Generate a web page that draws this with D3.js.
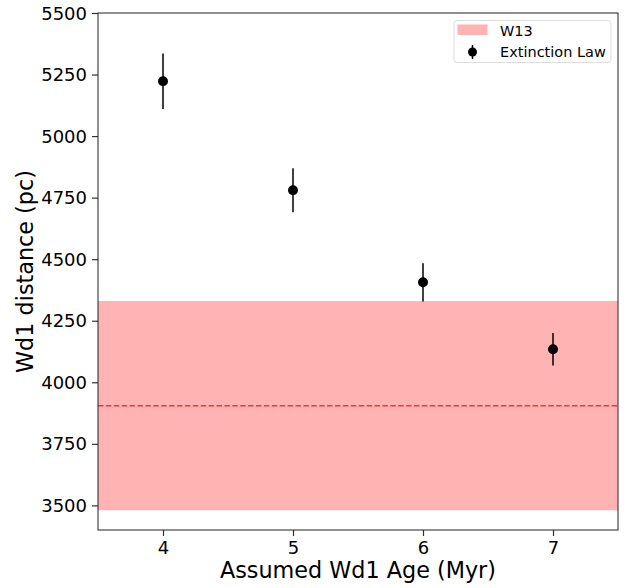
<!DOCTYPE html>
<html><head><meta charset="utf-8">
<script src="https://cdn.jsdelivr.net/npm/d3@7"></script>
<style>body{margin:0;background:#fff}svg{display:block}text{font-family:"DejaVu Sans",sans-serif}</style>
</head><body><svg id="c" width="631" height="588"></svg>
<script>
const ages = [4, 5, 6, 7];
const distances = [5223, 4780, 4406, 4134];
const errors = [113, 89, 78, 66];
const w13Center = 3905;
const w13Low = 3480;
const w13High = 4330;
const xTicks = [4, 5, 6, 7];
const yTicks = [3500, 3750, 4000, 4250, 4500, 4750, 5000, 5250, 5500];

const svg = d3.select("#c");
const m = {l: 98, r: 618, t: 13, b: 530};
const x = d3.scaleLinear().domain([3.5, 7.5]).range([m.l, m.r]);
const y = d3.scaleLinear().domain([3400, 5500]).range([m.b, m.t]);

// band
svg.append("rect").attr("x", m.l).attr("width", m.r - m.l)
  .attr("y", y(w13High)).attr("height", y(w13Low) - y(w13High))
  .attr("fill", "#ffb3b3");
svg.append("line").attr("x1", m.l).attr("x2", m.r)
  .attr("y1", y(w13Center)).attr("y2", y(w13Center))
  .attr("stroke", "#ff3030").attr("stroke-width", 1.5).attr("stroke-dasharray", "5.5,2.4");

// error bars
const g = svg.append("g");
ages.forEach((a, i) => {
  g.append("line").attr("x1", x(a)).attr("x2", x(a))
    .attr("y1", y(distances[i] + errors[i])).attr("y2", y(distances[i] - errors[i]))
    .attr("stroke", "#000").attr("stroke-width", 1.5);
  g.append("circle").attr("cx", x(a)).attr("cy", y(distances[i])).attr("r", 5).attr("fill", "#000");
});

// axes
const xa = svg.append("g").attr("transform", `translate(0,${m.b})`)
  .call(d3.axisBottom(x).tickValues(xTicks).tickFormat(d3.format("d")).tickSize(6).tickPadding(5));
const ya = svg.append("g").attr("transform", `translate(${m.l},0)`)
  .call(d3.axisLeft(y).tickValues(yTicks).tickFormat(d3.format("d")).tickSize(6).tickPadding(5));
[xa, ya].forEach(a => {
  a.select(".domain").remove();
  a.attr("font-size", 18).attr("font-family", "DejaVu Sans");
  a.selectAll(".tick line").attr("stroke", "#333").attr("stroke-width", 1.2);
  a.selectAll("text").attr("fill", "#000");
});
ya.selectAll("text").attr("dy", "0.34em");
svg.append("rect").attr("x", m.l).attr("y", m.t).attr("width", m.r - m.l).attr("height", m.b - m.t)
  .attr("fill", "none").attr("stroke", "#222").attr("stroke-width", 1);

// labels
svg.append("text").attr("x", (m.l + m.r) / 2).attr("y", 578).attr("text-anchor", "middle")
  .attr("font-size", 22.3).text("Assumed Wd1 Age (Myr)");
svg.append("text").attr("transform", `translate(33,${(m.t + m.b) / 2}) rotate(-90)`)
  .attr("text-anchor", "middle").attr("font-size", 22.3).text("Wd1 distance (pc)");

// legend
const lg = svg.append("g");
lg.append("rect").attr("x", 454).attr("y", 20.5).attr("width", 157).attr("height", 42).attr("rx", 3)
  .attr("fill", "#fff").attr("fill-opacity", 0.8).attr("stroke", "#ddd");
lg.append("rect").attr("x", 457.5).attr("y", 24.5).attr("width", 30).attr("height", 10.5).attr("fill", "#ffb3b3");
lg.append("text").attr("x", 500).attr("y", 35.5).attr("font-size", 14.5).text("W13");
lg.append("line").attr("x1", 472.5).attr("x2", 472.5).attr("y1", 45).attr("y2", 59).attr("stroke", "#000").attr("stroke-width", 1.5);
lg.append("circle").attr("cx", 472.5).attr("cy", 52).attr("r", 4.5).attr("fill", "#000");
lg.append("text").attr("x", 500).attr("y", 56.5).attr("font-size", 14.5).text("Extinction Law");
</script></body></html>
